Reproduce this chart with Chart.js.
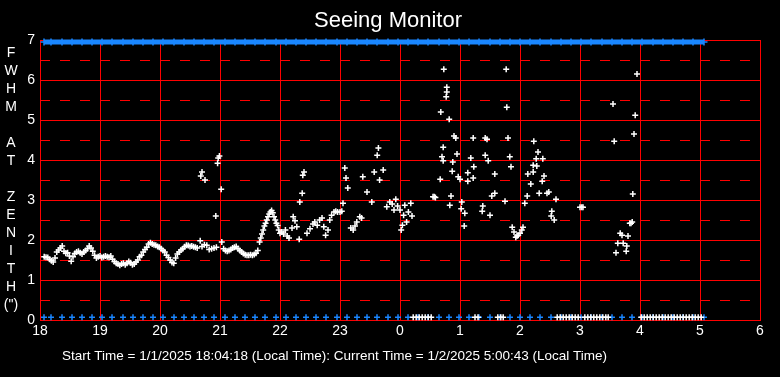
<!DOCTYPE html>
<html>
<head>
<meta charset="utf-8">
<title>Seeing Monitor</title>
<script src="https://cdn.jsdelivr.net/npm/chart.js@4.4.1/dist/chart.umd.min.js"></script>
<style>
  html, body { margin: 0; padding: 0; background: #000; }
  canvas { display: block; background: #000; }
</style>
</head>
<body>
<canvas id="seeing-chart" width="780" height="377"></canvas>
<script>
// hour labels along the bottom (18:00 on 1/1 to 06:00 on 1/2)
var hourLabels = ["18", "19", "20", "21", "22", "23", "0", "1", "2", "3", "4", "5", "6"];
// dashed guide lines between the whole-arcsec grid lines
var halfTicks = [0.5, 1.5, 2.5, 3.5, 4.5, 5.5, 6.5];

// FWHM at zenith (arcsec), time in hours (past midnight = 24+)
var seeingTimes = [
  18.07, 18.10, 18.13, 18.16, 18.19, 18.22, 18.25, 18.28, 18.31, 18.34, 18.37, 18.40, 18.43, 18.46, 18.49,
  18.52, 18.55, 18.58, 18.61, 18.64, 18.67, 18.70, 18.73, 18.76, 18.79, 18.82, 18.85, 18.88, 18.91, 18.94,
  18.97, 19.00, 19.03, 19.06, 19.09, 19.12, 19.15, 19.18, 19.21, 19.24, 19.27, 19.30, 19.33, 19.36, 19.39,
  19.42, 19.45, 19.48, 19.51, 19.54, 19.57, 19.60, 19.63, 19.66, 19.69, 19.72, 19.75, 19.78, 19.81, 19.84,
  19.87, 19.90, 19.93, 19.96, 19.99, 20.02, 20.05, 20.08, 20.11, 20.14, 20.17, 20.20, 20.23, 20.26, 20.29,
  20.32, 20.35, 20.38, 20.41, 20.44, 20.47, 20.50, 20.53, 20.56, 20.59, 20.62, 20.67, 20.70, 20.74, 20.78,
  20.82, 20.86, 20.90, 20.94, 21.03, 21.06, 21.09, 21.12, 21.15, 21.18, 21.21, 21.24, 21.27, 21.30, 21.33,
  21.36, 21.39, 21.42, 21.45, 21.48, 21.51, 21.54, 21.57, 21.60, 21.63, 21.66, 21.68, 21.70, 21.72, 21.74,
  21.76, 21.78, 21.80, 21.82, 21.84, 21.86, 21.88, 21.90, 21.92, 21.94, 21.96, 21.98, 22.00, 22.03, 22.06,
  22.09, 22.12, 22.15,
  20.68, 20.70, 20.75, 20.93, 20.96, 20.97, 20.99, 21.02,
  22.20, 22.22, 22.25, 22.28, 22.32, 22.33, 22.37, 22.38, 22.40, 22.45, 22.50, 22.55, 22.58, 22.62, 22.66,
  22.70, 22.73, 22.76, 22.80, 22.83, 22.86, 22.90, 22.93, 22.96, 23.00, 23.03, 23.05, 23.08, 23.10, 23.13,
  23.18, 23.22, 23.25, 23.28, 23.33, 23.36, 23.38, 23.45, 23.53, 23.57, 23.62, 23.64, 23.66, 23.72, 23.78,
  23.83, 23.87, 23.90, 23.93, 23.96, 24.00, 24.02, 24.04, 24.06, 24.08, 24.11, 24.14, 24.18, 24.20,
  24.55, 24.57, 24.59, 24.67, 24.68, 24.70, 24.72, 24.72, 24.73, 24.77, 24.78, 24.78, 24.82, 24.83, 24.85,
  24.87, 24.88, 24.90, 24.93, 24.95, 24.97, 25.00, 25.02, 25.03, 25.07, 25.08, 25.13, 25.13, 25.18, 25.22,
  25.22, 25.23, 25.37, 25.38, 25.42, 25.45, 25.42, 25.47, 25.50, 25.53, 25.58, 25.58, 25.75, 25.77, 25.78,
  25.80, 25.83, 25.85, 25.87, 25.90, 25.93, 25.95, 25.97, 26.00, 26.03, 26.05, 26.08, 26.12, 26.13, 26.18,
  26.22, 26.22, 26.23, 26.27, 26.28, 26.30, 26.32, 26.37, 26.38, 26.40, 26.45, 26.48, 26.52, 26.53, 26.57,
  26.60, 27.00, 27.03, 27.05, 27.55, 27.57, 27.60, 27.63, 27.67, 27.70, 27.72, 27.77, 27.78, 27.80, 27.83,
  27.85, 27.87, 27.88, 27.90, 27.92, 27.95
];
var seeingValues = [
  1.58, 1.57, 1.56, 1.52, 1.48, 1.45, 1.55, 1.70, 1.75, 1.80, 1.85, 1.72, 1.67, 1.68, 1.60,
  1.47, 1.58, 1.66, 1.70, 1.72, 1.68, 1.65, 1.70, 1.74, 1.78, 1.85, 1.80, 1.72, 1.62, 1.55,
  1.58, 1.60, 1.56, 1.58, 1.60, 1.58, 1.57, 1.60, 1.52, 1.46, 1.42, 1.40, 1.37, 1.40, 1.42,
  1.38, 1.42, 1.46, 1.43, 1.38, 1.40, 1.45, 1.50, 1.58, 1.62, 1.70, 1.76, 1.82, 1.90, 1.93,
  1.90, 1.88, 1.87, 1.84, 1.82, 1.78, 1.74, 1.70, 1.62, 1.56, 1.50, 1.44, 1.42, 1.55, 1.65,
  1.70, 1.75, 1.78, 1.83, 1.87, 1.86, 1.84, 1.85, 1.83, 1.82, 1.80, 1.98, 1.84, 1.88, 1.87,
  1.76, 1.78, 1.80, 1.82, 1.95, 1.78, 1.74, 1.72, 1.74, 1.76, 1.80, 1.82, 1.84, 1.78, 1.74,
  1.70, 1.66, 1.63, 1.62, 1.62, 1.63, 1.62, 1.64, 1.67, 1.74, 1.95, 2.05, 2.15, 2.25, 2.35,
  2.42, 2.50, 2.58, 2.65, 2.70, 2.74, 2.68, 2.58, 2.50, 2.42, 2.36, 2.25, 2.17, 2.20, 2.15,
  2.25, 2.10, 2.05,
  3.60, 3.70, 3.50, 2.60, 3.92, 4.05, 4.10, 3.27,
  2.30, 2.58, 2.48, 2.33, 2.02, 2.95, 3.17, 3.62, 3.70, 2.17, 2.28, 2.40, 2.45, 2.37, 2.50,
  2.55, 2.33, 2.12, 2.25, 2.50, 2.62, 2.70, 2.72, 2.70, 2.70, 2.72, 2.92, 3.80, 3.55, 3.30,
  2.30, 2.25, 2.35, 2.45, 2.58, 2.55, 3.58, 3.20, 2.95, 3.70, 4.12, 4.30, 3.50, 3.75, 2.83,
  2.95, 2.90, 2.75, 3.02, 2.85, 2.75, 2.25, 2.37, 2.62, 2.87, 2.45, 2.70, 2.92, 2.60,
  3.08, 3.08, 3.06, 3.52, 5.20, 4.08, 4.32, 3.98, 6.27, 5.58, 5.82, 5.70, 5.02, 2.87, 3.10,
  3.72, 3.95, 4.60, 4.55, 4.15, 3.58, 3.52, 2.78, 2.95, 2.35, 2.67, 3.68, 3.47, 4.05, 4.55,
  3.55, 3.83, 2.72, 2.85, 4.55, 4.52, 4.12, 3.98, 2.62, 3.10, 3.17, 3.65, 2.97, 6.27, 5.32,
  4.55, 4.08, 3.83, 2.32, 2.20, 2.07, 2.10, 2.12, 2.17, 2.25, 2.32, 2.92, 3.10, 3.65, 3.40,
  3.87, 3.70, 4.47, 4.03, 3.85, 4.20, 3.17, 3.47, 4.03, 3.60, 3.17, 3.20, 2.60, 2.72, 2.50,
  3.02, 2.82, 2.82, 2.82, 5.40, 4.47, 1.68, 1.92, 2.17, 2.12, 1.92, 1.72, 1.85, 2.10, 2.42,
  2.42, 2.45, 3.15, 4.65, 5.12, 6.15
];

// samples with no measurement (white marks on the floor)
var noDataTimes = [
  24.22, 24.27, 24.32, 24.37, 24.42, 24.47, 24.52,
  25.25, 25.30,
  25.63, 25.68, 25.72,
  26.62, 26.67, 26.72, 26.77, 26.82, 26.87, 26.92, 26.97,
  27.08, 27.13, 27.18, 27.23, 27.28, 27.33, 27.38, 27.43, 27.47,
  28.02, 28.07, 28.12, 28.17, 28.22, 28.27, 28.32, 28.37, 28.42, 28.47, 28.52,
  28.57, 28.62, 28.67, 28.72, 28.77, 28.82, 28.87, 28.92, 28.97, 29.02
];

// status marks (blue), minutes after 18:00
var blueMinutes = [
  4, 11, 22, 32, 42, 52, 62, 72, 83, 93, 103, 113, 123, 134, 144, 154, 164, 174, 185, 195,
  205, 215, 225, 236, 246, 256, 266, 276, 286, 297, 307, 317, 327, 337, 348, 358, 368, 378,
  388, 399, 409, 419, 429, 439, 450, 460, 470, 480, 490, 500, 511, 521, 531, 541, 551, 562,
  572, 582, 592, 602, 613, 623, 633, 643, 653, 664
];
var floorLevel = 0.07;
var ceilingLevel = 6.95;

var chartTitle = "Seeing Monitor";
var yTitle = ["F", "W", "H", "M", "", "A", "T", "", "Z", "E", "N", "I", "T", "H", "(\")"];
var footer = "Start Time = 1/1/2025 18:04:18 (Local Time): Current Time = 1/2/2025 5:00:43 (Local Time)";

var fontFamily = '"Liberation Sans", Arial, Helvetica, sans-serif';

function pts(xs, ys) {
  return xs.map(function (x, i) { return { x: x, y: typeof ys === "number" ? ys : ys[i] }; });
}
var blueTimes = blueMinutes.map(function (m) { return 18 + m / 60; });

// dashed half-arcsec lines, placed through the y scale
var halfLines = {
  id: "halfLines",
  beforeDatasetsDraw: function (chart) {
    var c = chart.ctx, a = chart.chartArea, ys = chart.scales.y;
    c.save();
    c.strokeStyle = "#ff0000";
    c.lineWidth = 1;
    c.setLineDash([10, 10]);
    halfTicks.forEach(function (v) {
      var py = Math.round(ys.getPixelForValue(v)) + 0.5;
      c.beginPath();
      c.moveTo(a.left, py);
      c.lineTo(a.right, py);
      c.stroke();
    });
    c.restore();
  }
};

var textPlugin = {
  id: "texts",
  afterDraw: function (chart) {
    var c = chart.ctx;
    c.save();
    c.fillStyle = "#fff";
    c.textAlign = "center";
    c.textBaseline = "middle";
    c.font = "22px " + fontFamily;
    c.fillText(chartTitle, 388, 21);
    c.font = "14px " + fontFamily;
    yTitle.forEach(function (ch, i) { c.fillText(ch, 11, 53 + i * 18); });
    c.textAlign = "left";
    c.font = "13.5px " + fontFamily;
    c.fillText(footer, 62, 356);
    c.restore();
  }
};

var ctx = document.getElementById("seeing-chart");

var chart = new Chart(ctx, {
  type: "scatter",
  data: {
    datasets: [
      {
        label: "FWHM",
        data: pts(seeingTimes, seeingValues),
        pointStyle: "cross",
        pointRadius: 3,
        borderWidth: 1.5,
        borderColor: "#ffffff",
        backgroundColor: "#ffffff"
      },
      {
        label: "No data",
        data: pts(noDataTimes, floorLevel),
        pointStyle: "cross",
        pointRadius: 3,
        borderWidth: 1.5,
        borderColor: "#ffffff",
        clip: false
      },
      {
        label: "Status low",
        data: pts(blueTimes, floorLevel),
        pointStyle: "cross",
        pointRadius: 3,
        borderWidth: 1.5,
        borderColor: "#1a86ff",
        clip: false
      },
      {
        label: "Status high",
        data: pts(blueTimes, ceilingLevel),
        showLine: true,
        borderWidth: 5,
        borderColor: "#1a86ff",
        pointStyle: "cross",
        pointRadius: 3.5,
        pointBorderWidth: 1.5,
        clip: false
      }
    ]
  },
  options: {
    responsive: false,
    animation: false,
    devicePixelRatio: 1,
    layout: { padding: { top: 40, right: 20, left: 0, bottom: 0 } },
    plugins: {
      legend: { display: false },
      title: { display: false },
      tooltip: { enabled: false }
    },
    scales: {
      x: {
        type: "linear",
        min: 18,
        max: 30,
        afterFit: function (s) { s.height = 57; },
        ticks: {
          stepSize: 1,
          autoSkip: false,
          maxRotation: 0,
          padding: 3,
          color: "#fff",
          font: { size: 14, family: fontFamily },
          callback: function (v) { return hourLabels[Math.round(v - 18)]; }
        },
        grid: { color: "#ff0000", lineWidth: 1, drawTicks: false },
        border: { color: "#ff0000", width: 1 }
      },
      y: {
        min: 0,
        max: 7,
        afterFit: function (s) { s.width = 40; },
        ticks: {
          stepSize: 1,
          autoSkip: false,
          padding: 5,
          color: "#fff",
          font: { size: 14, family: fontFamily }
        },
        grid: { color: "#ff0000", lineWidth: 1, drawTicks: false },
        border: { color: "#ff0000", width: 1 }
      }
    }
  },
  plugins: [halfLines, textPlugin]
});
</script>
</body>
</html>
